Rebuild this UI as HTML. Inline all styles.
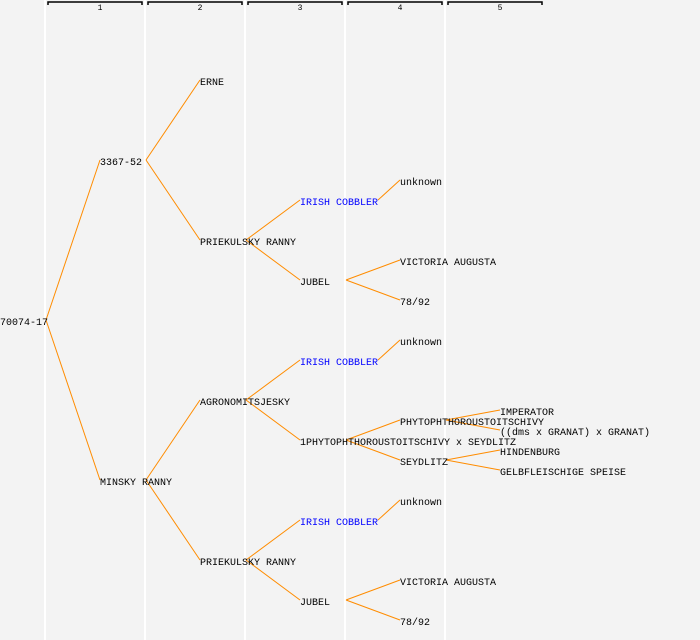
<!DOCTYPE html>
<html><head><meta charset="utf-8"><style>
html,body{margin:0;padding:0;background:#f3f3f3;}
svg{display:block;}
text{font-family:"Liberation Mono","DejaVu Sans Mono",monospace;font-size:10px;fill:#000;}
.b{fill:#0000ff;}
line,polyline{stroke:#ff8c00;stroke-width:1;fill:none;}
.c{stroke:#fff;stroke-width:2;}
.h{stroke:#000;stroke-width:1.5;fill:none;}
</style></head><body>
<svg width="700" height="640" xmlns="http://www.w3.org/2000/svg">
<rect width="700" height="640" fill="#f3f3f3"/>
<line class="c" x1="45" y1="0" x2="45" y2="640"/>
<line class="c" x1="145" y1="0" x2="145" y2="640"/>
<line class="c" x1="245" y1="0" x2="245" y2="640"/>
<line class="c" x1="345" y1="0" x2="345" y2="640"/>
<line class="c" x1="445" y1="0" x2="445" y2="640"/>
<polyline class="h" points="48,5 48,2 142,2 142,5"/>
<polyline class="h" points="148,5 148,2 242,2 242,5"/>
<polyline class="h" points="248,5 248,2 342,2 342,5"/>
<polyline class="h" points="348,5 348,2 442,2 442,5"/>
<polyline class="h" points="448,5 448,2 542,2 542,5"/>
<text x="100" y="10" text-anchor="middle" style="font-size:8px">1</text>
<text x="200" y="10" text-anchor="middle" style="font-size:8px">2</text>
<text x="300" y="10" text-anchor="middle" style="font-size:8px">3</text>
<text x="400" y="10" text-anchor="middle" style="font-size:8px">4</text>
<text x="500" y="10" text-anchor="middle" style="font-size:8px">5</text>

<line x1="46" y1="320" x2="100" y2="160"/>
<line x1="46" y1="320" x2="100" y2="480"/>
<line x1="146" y1="160" x2="200" y2="80"/>
<line x1="146" y1="160" x2="200" y2="240"/>
<line x1="146" y1="480" x2="200" y2="400"/>
<line x1="146" y1="480" x2="200" y2="560"/>
<line x1="246" y1="240" x2="300" y2="200"/>
<line x1="246" y1="240" x2="300" y2="280"/>
<line x1="246" y1="400" x2="300" y2="360"/>
<line x1="246" y1="400" x2="300" y2="440"/>
<line x1="246" y1="560" x2="300" y2="520"/>
<line x1="246" y1="560" x2="300" y2="600"/>
<line x1="378" y1="200" x2="400" y2="180"/>
<line x1="346" y1="280" x2="400" y2="260"/>
<line x1="346" y1="280" x2="400" y2="300"/>
<line x1="378" y1="360" x2="400" y2="340"/>
<line x1="346" y1="440" x2="400" y2="420"/>
<line x1="346" y1="440" x2="400" y2="460"/>
<line x1="378" y1="520" x2="400" y2="500"/>
<line x1="346" y1="600" x2="400" y2="580"/>
<line x1="346" y1="600" x2="400" y2="620"/>
<line x1="446" y1="420" x2="500" y2="410"/>
<line x1="446" y1="420" x2="500" y2="430"/>
<line x1="446" y1="460" x2="500" y2="450"/>
<line x1="446" y1="460" x2="500" y2="470"/>

<text x="0" y="325">70074-17</text>
<text x="100" y="165">3367-52</text>
<text x="100" y="485">MINSKY RANNY</text>
<text x="200" y="85">ERNE</text>
<text x="200" y="245">PRIEKULSKY RANNY</text>
<text x="200" y="405">AGRONOMITSJESKY</text>
<text x="200" y="565">PRIEKULSKY RANNY</text>
<text x="300" y="205" class="b">IRISH COBBLER</text>
<text x="300" y="285">JUBEL</text>
<text x="300" y="365" class="b">IRISH COBBLER</text>
<text x="300" y="445">1PHYTOPHTHOROUSTOITSCHIVY x SEYDLITZ</text>
<text x="300" y="525" class="b">IRISH COBBLER</text>
<text x="300" y="605">JUBEL</text>
<text x="400" y="185">unknown</text>
<text x="400" y="265">VICTORIA AUGUSTA</text>
<text x="400" y="305">78/92</text>
<text x="400" y="345">unknown</text>
<text x="400" y="425">PHYTOPHTHOROUSTOITSCHIVY</text>
<text x="400" y="465">SEYDLITZ</text>
<text x="400" y="505">unknown</text>
<text x="400" y="585">VICTORIA AUGUSTA</text>
<text x="400" y="625">78/92</text>
<text x="500" y="415">IMPERATOR</text>
<text x="500" y="435">((dms x GRANAT) x GRANAT)</text>
<text x="500" y="455">HINDENBURG</text>
<text x="500" y="475">GELBFLEISCHIGE SPEISE</text>
</svg>
</body></html>
